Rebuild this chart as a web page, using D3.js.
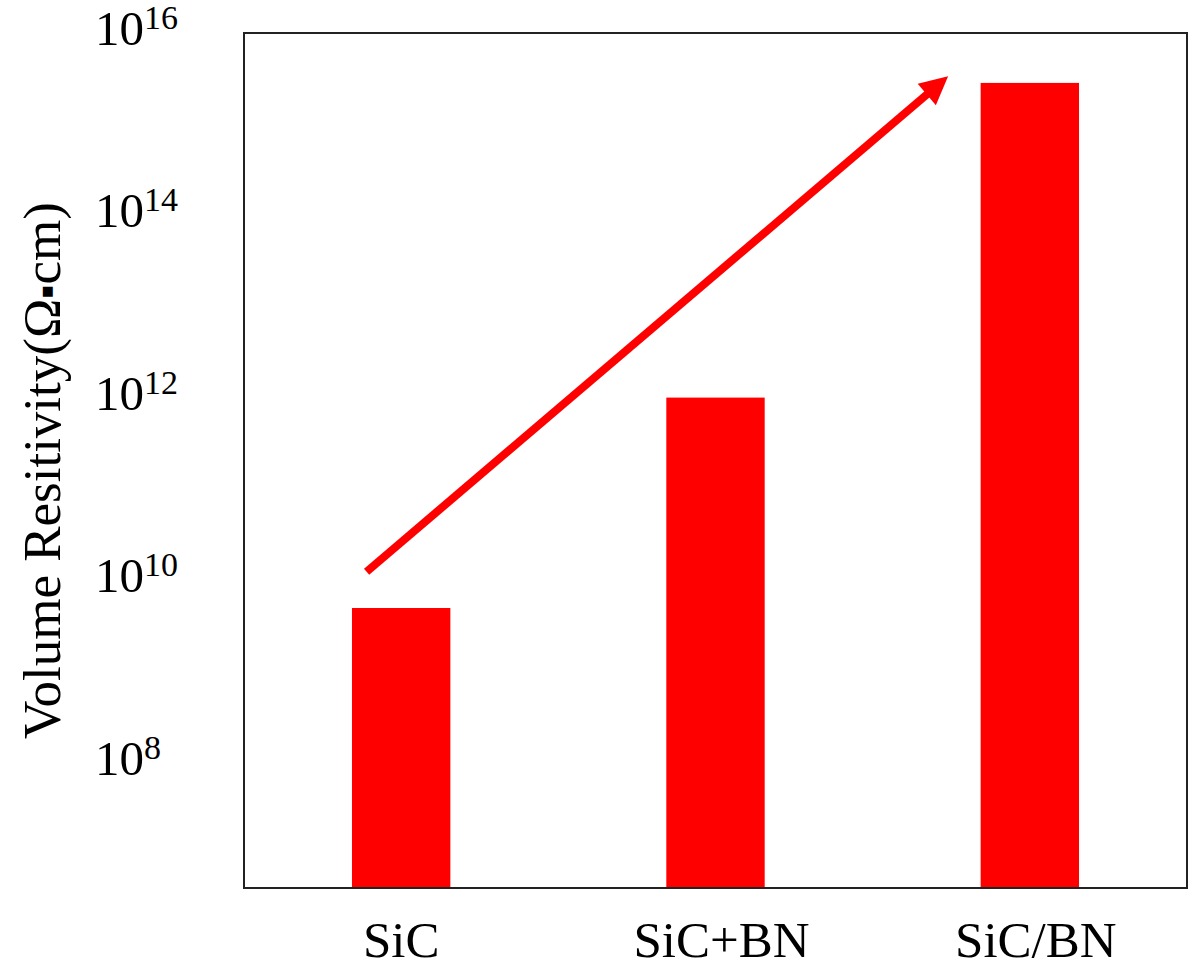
<!DOCTYPE html>
<html>
<head>
<meta charset="utf-8">
<script src="https://cdn.jsdelivr.net/npm/d3@7/dist/d3.min.js"></script>
<style>
  html, body { margin: 0; padding: 0; background: #fff; }
  svg { display: block; }
  text { font-family: "Liberation Serif", "Times New Roman", serif; fill: #000; }
</style>
</head>
<body>
<script>
// Volume resistivity of the three samples (Ω·cm)
const categories = ["SiC", "SiC+BN", "SiC/BN"];
const resistivity = [4.4e9, 8.9e11, 2.5e15];
const tickExponents = [8, 10, 12, 14, 16];
const yTitleParts = ["Volume Resitivity(Ω", "\u25AA", "cm)"];
// Trend arrow, given as (category position, resistivity) at tail and head
const trendArrow = { from: [-0.11, 1.1e10], to: [1.74, 2.95e15] };

const width = 1190, height = 969;
const margin = { top: 33, right: 3, bottom: 81, left: 244 };
const innerW = width - margin.left - margin.right;
const innerH = height - margin.top - margin.bottom;

const svg = d3.select("body").append("svg")
  .attr("width", width).attr("height", height);

const g = svg.append("g").attr("transform", `translate(${margin.left},${margin.top})`);

const pad = 0.687;
const x = d3.scaleBand().domain(categories).range([0, innerW])
  .paddingInner(pad).paddingOuter(pad / 2);

// Continuous position along the category axis (index -> band centre)
const xPos = d3.scaleLinear().domain([0, categories.length - 1])
  .range([x(categories[0]) + x.bandwidth() / 2,
          x(categories[categories.length - 1]) + x.bandwidth() / 2]);

const y = d3.scaleLog().domain([Math.pow(10, 6.575), Math.pow(10, 15.945)]).range([innerH, 0]);

// Bars
g.selectAll("rect.bar").data(categories).join("rect")
  .attr("class", "bar")
  .attr("x", d => x(d))
  .attr("width", x.bandwidth())
  .attr("y", (d, i) => y(resistivity[i]))
  .attr("height", (d, i) => innerH - y(resistivity[i]))
  .attr("fill", "#ff0000");

// Trend arrow
const ax1 = xPos(trendArrow.from[0]), ay1 = y(trendArrow.from[1]);
const ax2 = xPos(trendArrow.to[0]), ay2 = y(trendArrow.to[1]);
const ang = Math.atan2(ay2 - ay1, ax2 - ax1);
const headLen = 28, headHalf = 14;
const bx = ax2 - headLen * Math.cos(ang), by = ay2 - headLen * Math.sin(ang);
g.append("line")
  .attr("x1", ax1).attr("y1", ay1)
  .attr("x2", bx + 2 * Math.cos(ang)).attr("y2", by + 2 * Math.sin(ang))
  .attr("stroke", "#ff0000").attr("stroke-width", 8);
g.append("path")
  .attr("d", d3.line()([
    [ax2, ay2],
    [bx - headHalf * Math.sin(ang), by + headHalf * Math.cos(ang)],
    [bx + headHalf * Math.sin(ang), by - headHalf * Math.cos(ang)]
  ]) + "Z")
  .attr("fill", "#ff0000");

// Frame
g.append("rect")
  .attr("x", 0).attr("y", 0).attr("width", innerW).attr("height", innerH)
  .attr("fill", "none").attr("stroke", "#222").attr("stroke-width", 2);

// Y tick labels: 10 with superscript exponent, left aligned
const yTicks = g.append("g").attr("class", "y-ticks");
tickExponents.forEach(e => {
  const t = yTicks.append("text")
    .attr("x", 95 - margin.left)
    .attr("y", y(Math.pow(10, e)) + 17)
    .attr("font-size", 49)
    .attr("text-anchor", "start");
  t.append("tspan").text("10");
  t.append("tspan").attr("font-size", 34).attr("dy", -16).text(e);
});

// Category labels
const xAxis = d3.axisBottom(x).tickSize(0).tickPadding(0);
const xg = g.append("g").attr("transform", `translate(0,${innerH})`).call(xAxis);
xg.select(".domain").remove();
xg.selectAll("text")
  .attr("font-family", "Liberation Serif, serif")
  .attr("font-size", 51)
  .attr("dy", 0)
  .attr("y", 69)
  .attr("dx", (d, i) => i === 0 ? 0 : 6)
  .attr("fill", "#000");

// Y axis title
const title = svg.append("text")
  .attr("transform", `translate(60,${(198 + 743) / 2}) rotate(-90)`)
  .attr("text-anchor", "middle")
  .attr("font-size", 53);
title.append("tspan").text(yTitleParts[0]);
title.append("tspan").attr("font-size", 40).text(yTitleParts[1]);
title.append("tspan").text(yTitleParts[2]);
</script>
</body>
</html>
